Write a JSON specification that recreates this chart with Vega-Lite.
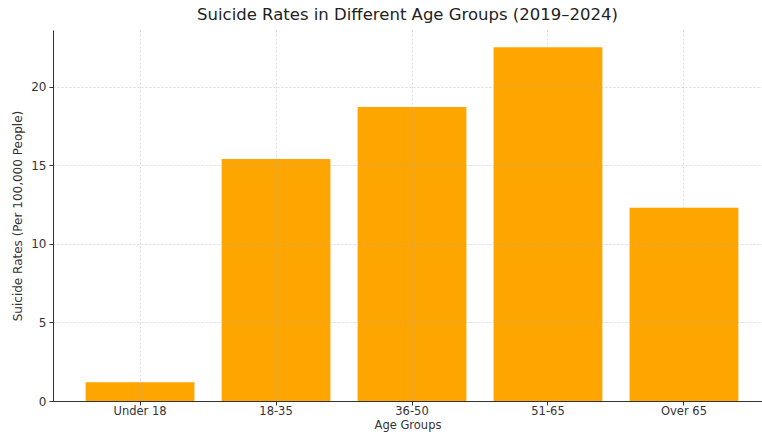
{
  "$schema": "https://vega.github.io/schema/vega-lite/v6.json",
  "width": 709,
  "height": 371,
  "autosize": {"type": "none"},
  "padding": {"left": 53, "top": 30, "right": 0, "bottom": 33},
  "background": "white",
  "view": {"stroke": null},
  "config": {
    "font": "DejaVu Sans",
    "title": {"fontSize": 16.5, "fontWeight": "normal", "color": "#222222", "offset": 7, "anchor": "middle"}
  },
  "title": "Suicide Rates in Different Age Groups (2019–2024)",
  "data": {
    "values": [
      {"group": "Under 18", "rate": 1.2},
      {"group": "18-35", "rate": 15.4},
      {"group": "36-50", "rate": 18.7},
      {"group": "51-65", "rate": 22.5},
      {"group": "Over 65", "rate": 12.3}
    ]
  },
  "mark": {"type": "bar", "color": "#FFA500"},
  "encoding": {
    "x": {
      "field": "group",
      "type": "nominal",
      "sort": null,
      "title": "Age Groups",
      "scale": {"paddingInner": 0.2, "paddingOuter": 0.207, "align": 0.58},
      "axis": {
        "labelAngle": 0,
        "labelFontSize": 11.5,
        "labelColor": "#333333",
        "labelPadding": 0,
        "titleFontSize": 11.5,
        "titleFontWeight": "normal",
        "titleColor": "#333333",
        "titlePadding": 3,
        "domainColor": "#333333",
        "tickColor": "#333333",
        "tickSize": 4,
        "grid": true,
        "gridColor": "#b0b0b0",
        "gridOpacity": 0.45,
        "gridDash": [2, 2],
        "bandPosition": 0.5,
        "zindex": 1
      }
    },
    "y": {
      "field": "rate",
      "type": "quantitative",
      "title": "Suicide Rates (Per 100,000 People)",
      "scale": {"domain": [0, 23.6], "nice": false, "zero": true},
      "axis": {
        "values": [0, 5, 10, 15, 20],
        "labelFontSize": 12,
        "labelColor": "#333333",
        "labelPadding": 3,
        "titleFontSize": 12,
        "titleFontWeight": "normal",
        "titleColor": "#333333",
        "titlePadding": 6,
        "domainColor": "#333333",
        "tickColor": "#333333",
        "tickSize": 4,
        "grid": true,
        "gridColor": "#b0b0b0",
        "gridOpacity": 0.45,
        "gridDash": [2, 2],
        "zindex": 1
      }
    }
  }
}
